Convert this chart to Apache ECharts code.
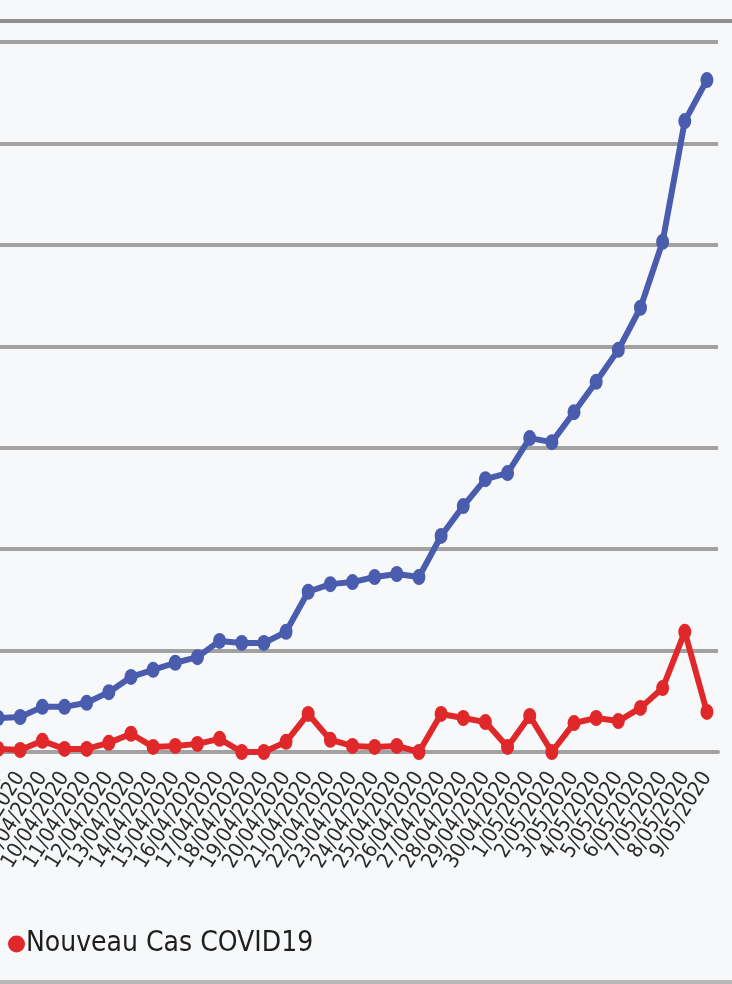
<!DOCTYPE html>
<html>
<head>
    <meta charset="utf-8">
    <title>COVID19</title>
    <style>
        html, body, #chart {
            margin: 0;
            padding: 0;
            width: 732px;
            height: 984px;
            overflow: hidden;
            background: #f6f8f9;
        }
    </style>
</head>
<body>
    <div id="chart"></div>
    <script src="https://cdn.jsdelivr.net/npm/echarts@6/dist/echarts.min.js"></script>
    <script type="text/javascript">
        // dates (jour/mois/année)
        var categories = [
            '7/04/2020', '8/04/2020', '9/04/2020', '10/04/2020', '11/04/2020', '12/04/2020',
            '13/04/2020', '14/04/2020', '15/04/2020', '16/04/2020', '17/04/2020', '18/04/2020',
            '19/04/2020', '20/04/2020', '21/04/2020', '22/04/2020', '23/04/2020', '24/04/2020',
            '25/04/2020', '26/04/2020', '27/04/2020', '28/04/2020', '29/04/2020', '30/04/2020',
            '1/05/2020', '2/05/2020', '3/05/2020', '4/05/2020', '5/05/2020', '6/05/2020',
            '7/05/2020', '8/05/2020', '9/05/2020'
        ];
        // cas cumulés (ligne bleue)
        var totalCases = [67, 69, 89, 89, 97, 118, 148, 162, 176, 187, 219, 215, 215, 237, 316, 331, 335,
            345, 351, 345, 426, 485, 538, 550, 619, 611, 670, 730, 793, 876, 1006, 1244, 1325];
        // nouveaux cas (ligne rouge)
        var newCases = [6, 4, 22, 6, 6, 18, 36, 10, 12, 16, 26, 0, 0, 20, 75, 24, 12,
            10, 12, 0, 75, 67, 59, 10, 71, 0, 57, 67, 61, 87, 126, 237, 79];

        var ellipse = 'path://M50,0A50,50,0,1,1,50,100A50,50,0,1,1,50,0Z';
        var gridColor = '#a2a2a2';
        var narrow = '"Liberation Sans Narrow", "DejaVu Sans Condensed", sans-serif';

        var myChart = echarts.init(document.getElementById('chart'));
        myChart.setOption({
            animation: false,
            backgroundColor: '#f6f8f9',
            grid: {
                left: -13,
                right: 14,
                top: 42,
                bottom: 232,
                containLabel: false,
                outerBoundsMode: 'none'
            },
            legend: {
                data: ['Nouveau Cas COVID19'],
                left: 3,
                top: 925,
                icon: ellipse,
                itemWidth: 17,
                itemHeight: 25,
                textStyle: {
                    fontFamily: narrow,
                    fontSize: 28,
                    color: '#1e1e1e',
                    padding: [0, 0, 0, -4]
                }
            },
            xAxis: {
                type: 'category',
                data: categories,
                boundaryGap: true,
                axisLine: {
                    show: true,
                    lineStyle: { color: gridColor, width: 4 }
                },
                axisTick: { show: false },
                axisLabel: {
                    interval: 0,
                    rotate: 58,
                    margin: 22,
                    fontFamily: narrow,
                    fontSize: 21,
                    color: '#2a2a2a'
                }
            },
            yAxis: {
                type: 'value',
                min: 0,
                max: 1400,
                interval: 200,
                axisLabel: { show: false },
                axisLine: { show: false },
                axisTick: { show: false },
                splitLine: {
                    show: true,
                    lineStyle: { color: gridColor, width: 4 }
                }
            },
            series: [{
                name: 'Total Cas COVID19',
                type: 'line',
                data: totalCases,
                symbol: ellipse,
                symbolSize: [13, 16],
                lineStyle: { color: '#4a5cad', width: 6 },
                itemStyle: { color: '#4a5cad' },
                z: 3
            }, {
                name: 'Nouveau Cas COVID19',
                type: 'line',
                data: newCases,
                symbol: ellipse,
                symbolSize: [13, 16],
                lineStyle: { color: '#e0282a', width: 6 },
                itemStyle: { color: '#e0282a' },
                z: 4
            }],
            graphic: [{
                // cadre du haut et du bas
                type: 'line',
                shape: { x1: 0, y1: 21, x2: 732, y2: 21 },
                style: { stroke: '#8f8f8f', lineWidth: 4 }
            }, {
                type: 'line',
                shape: { x1: 0, y1: 982, x2: 732, y2: 982 },
                style: { stroke: '#b8b8b8', lineWidth: 4 }
            }]
        });
    </script>
</body>
</html>
